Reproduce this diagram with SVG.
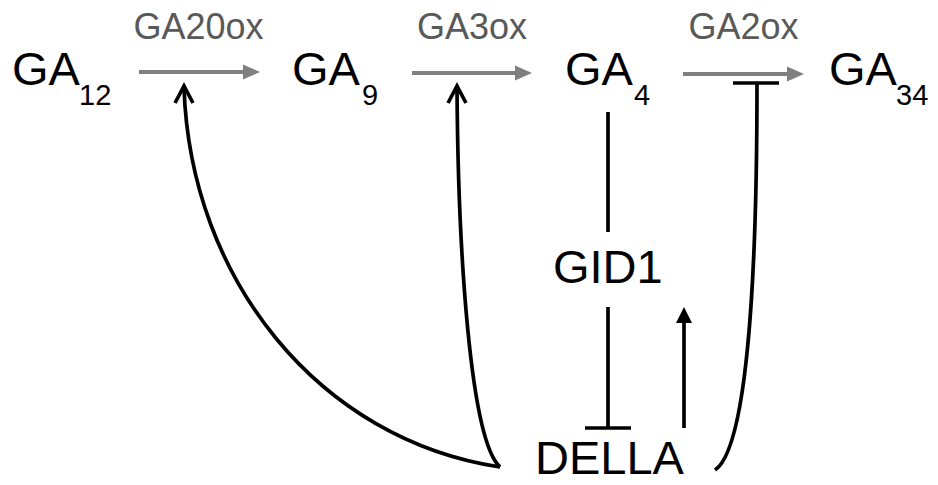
<svg xmlns="http://www.w3.org/2000/svg" width="938" height="485" viewBox="0 0 938 485">
<style>
.n{font-family:"Liberation Sans",Arial,sans-serif;font-size:47px;fill:#000}
.s{font-family:"Liberation Sans",Arial,sans-serif;font-size:29px;fill:#000}
.e{font-family:"Liberation Sans",Arial,sans-serif;font-size:36px;fill:#595959;text-anchor:middle}
.g{stroke:#808080;stroke-width:4;fill:none}
.gh{fill:#808080}
.k{stroke:#000;stroke-width:3.7;fill:none}
</style>
<rect width="938" height="485" fill="#fff"/>
<g id="GA12"><text class="n" x="12" y="85">GA</text><text class="s" x="79" y="105">12</text></g>
<g id="GA9"><text class="n" x="292" y="85">GA</text><text class="s" x="362" y="105">9</text></g>
<g id="GA4"><text class="n" x="565" y="85">GA</text><text class="s" x="634" y="105">4</text></g>
<g id="GA34"><text class="n" x="829" y="85">GA</text><text class="s" x="896" y="105">34</text></g>
<g id="GID1"><text class="n" x="553" y="283">GID1</text></g>
<g id="DELLA"><text class="n" x="535" y="474">DELLA</text></g>
<g id="enzymes">
<text class="e" x="198.5" y="39">GA20ox</text>
<text class="e" x="472" y="39">GA3ox</text>
<text class="e" x="743.5" y="39">GA2ox</text>
</g>
<g id="connectors">
<line class="g" x1="139" y1="72" x2="245" y2="72"/>
<polygon class="gh" points="243,64.5 260,72 243,79.5"/>
<line class="g" x1="412" y1="73" x2="517" y2="73"/>
<polygon class="gh" points="515,65.5 532,73 515,80.5"/>
<line class="g" x1="683" y1="74" x2="789" y2="74"/>
<polygon class="gh" points="787,66.5 804,74 787,81.5"/>
<path class="k" d="M500 467 C320 440 190 280 184 87"/>
<polyline class="k" points="175,103 184,86 193,103"/>
<path class="k" d="M500 467 C470 440 458 250 457 87"/>
<polyline class="k" points="448,103 457,86 466,103"/>
<path class="k" d="M715 470 C745 450 757 300 757 83"/>
<line class="k" x1="733" y1="83" x2="779" y2="83"/>
<line class="k" x1="608" y1="112" x2="608" y2="232"/>
<line class="k" x1="608" y1="307" x2="608" y2="428"/>
<line class="k" x1="585" y1="428" x2="631" y2="428"/>
<line class="k" x1="684" y1="428" x2="684" y2="320"/>
<polygon points="676,323 684,307 692,323" fill="#000"/>
</g>
</svg>
